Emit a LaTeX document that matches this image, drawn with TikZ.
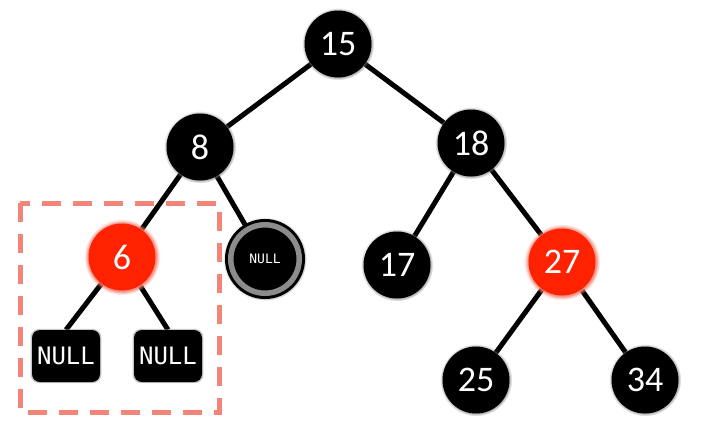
\documentclass[tikz,border=0pt]{standalone}
\usepackage{fontspec}
\setmainfont{Carlito}
\newfontfamily\monof{DejaVu Sans Mono}
\usepackage{tikz}
\usetikzlibrary{shadows,backgrounds}
\definecolor{rb}{HTML}{FF2200}
\definecolor{rg}{HTML}{FF8A7A}
\definecolor{frm}{HTML}{F28478}
\definecolor{rng}{HTML}{8C8C8C}
\tikzset{
  nd/.style={circle,fill=black,minimum size=67pt,inner sep=0pt,text=white,
    font=\fontsize{36}{36}\selectfont,circular glow={fill=black!55,shadow scale=1.08}},
  rnd/.style={nd,fill=rb,circular glow={fill=rg,shadow scale=1.14}},
  nilc/.style={nd,minimum size=68.5pt,draw=black,line width=3pt,double=rng,double distance=5.5pt,
    font=\monof\fontsize{13}{13}\selectfont,circular glow={fill=black!55,shadow scale=1.22}},
  nil/.style={rectangle,rounded corners=8pt,fill=black,minimum width=68pt,minimum height=52pt,
    inner sep=0pt,text=white,font=\monof\fontsize{24}{24}\selectfont,
    drop shadow={fill=black!45,shadow xshift=0pt,shadow yshift=0pt,shadow scale=1.04}},
  ed/.style={line width=5pt,draw=black},
  box/.style={draw=frm,line width=5pt,dash pattern=on 19pt off 12pt},
}
\begin{document}
\begin{tikzpicture}[x=1pt,y=-1pt]
\useasboundingbox (0,0) rectangle (710,440);
\draw[box] (20,203) rectangle (219,412);
\node[nd] (n15) at (338,44) {15};
\node[nd] (n8) at (200,147) {8};
\node[nd] (n18) at (471,143) {18};
\node[rnd] (n6) at (122,257) {6};
\node[nilc] (nc) at (265,259) {NULL};
\node[nd] (n17) at (397,265) {17};
\node[rnd] (n27) at (562,262) {27};
\node[nd] (n25) at (476,380) {25};
\node[nd] (n34) at (645,380) {34};
\node[nil] (nl1) at (66,356) {NULL};
\node[nil] (nl2) at (168,356) {NULL};
\begin{scope}[on background layer]
  \draw[ed] (n15) -- (n8);
  \draw[ed] (n15) -- (n18);
  \draw[ed] (n8) -- (n6);
  \draw[ed] (n8) -- (nc);
  \draw[ed] (n18) -- (n17);
  \draw[ed] (n18) -- (n27);
  \draw[ed] (n6) -- (nl1.north);
  \draw[ed] (n6) -- (nl2.north);
  \draw[ed] (n27) -- (n25);
  \draw[ed] (n27) -- (n34);
\end{scope}
\end{tikzpicture}
\end{document}
